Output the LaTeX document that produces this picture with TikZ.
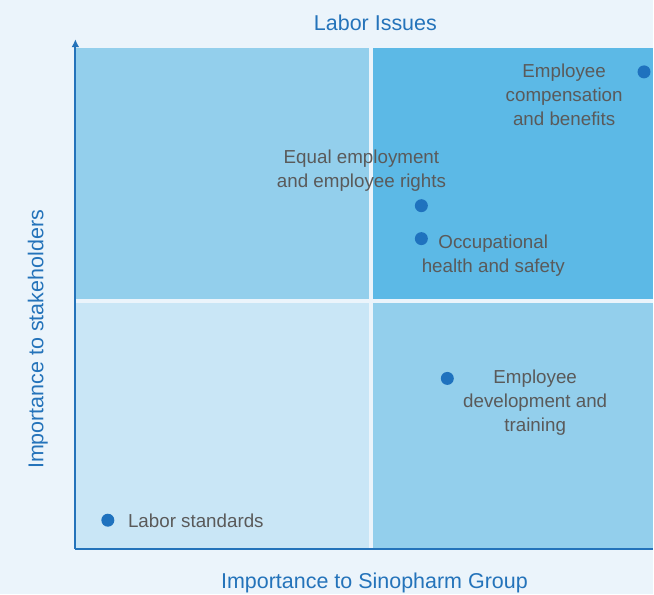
\documentclass[tikz,border=0pt]{standalone}
\usepackage{fontspec}
\setmainfont{Liberation Sans}
\usetikzlibrary{arrows.meta}
\definecolor{pagebg}{HTML}{EBF4FB}
\definecolor{quadlight}{HTML}{C9E6F6}
\definecolor{quadmid}{HTML}{93CFEC}
\definecolor{quaddark}{HTML}{5CB9E6}
\definecolor{axisblue}{HTML}{2473BA}
\definecolor{dotblue}{HTML}{1F72BE}
\definecolor{labelgray}{HTML}{5A5A5A}

\begin{document}
\begin{tikzpicture}[x=1pt, y=1pt,
        axisline/.style={draw=axisblue, line width=2pt},
        issuedot/.style={circle, fill=dotblue, minimum size=13pt, inner sep=0pt},
        issue/.style={text=labelgray, font=\fontsize{18.8}{24}\selectfont, align=center, inner sep=0pt},
        axislabel/.style={text=axisblue, font=\fontsize{21.5}{26}\selectfont, inner sep=0pt}]
        % Background
        \fill[pagebg] (0,0) rectangle (654,595);

        % Quadrants
        \foreach \xa/\ya/\xb/\yb/\shade in {75.5/45.5/370/292/quadlight, 374/45.5/654/292/quadmid, 75.5/296/370/547/quadmid, 374/296/654/547/quaddark} {
            \fill[\shade] (\xa,\ya) rectangle (\xb,\yb);
        }

        % Axes
        \coordinate (origin) at (75.5,45.3);
        \coordinate (ytop) at (75.5,555.7);
        \coordinate (xend) at (654,45.3);
        \draw[axisline, -{Latex[length=8pt, width=8pt]}] (origin) -- (ytop);
        \draw[axisline] (origin) -- (xend);

        \node[axislabel, anchor=base] (title) at (376,564) {Labor Issues};
        \node[axislabel, anchor=base] (xlabel) at (375,6) {Importance to Sinopharm Group};
        \node[axislabel, anchor=base, rotate=90] (ylabel) at (43.5,255) {Importance to stakeholders};

        % Issue dots
        \foreach \x/\y/\name in {645/523/compensation, 422/389/equal, 422/356/occupational, 448/216/development, 108/74/standards} {
            \node[issuedot] (dot\name) at (\x,\y) {};
        }

        % Issue labels
        \node[issue, anchor=north] (compensation) at (565,531) {Employee\\compensation\\and benefits};
        \node[issue, anchor=north] (equal) at (362,445) {Equal employment\\and employee rights};
        \node[issue, anchor=north] (occupational) at (494,360) {Occupational\\health and safety};
        \node[issue, anchor=north] (development) at (536,225) {Employee\\development and\\training};
        \node[issue, anchor=base west] (standards) at (128,67) {Labor standards};
    \end{tikzpicture}
\end{document}
